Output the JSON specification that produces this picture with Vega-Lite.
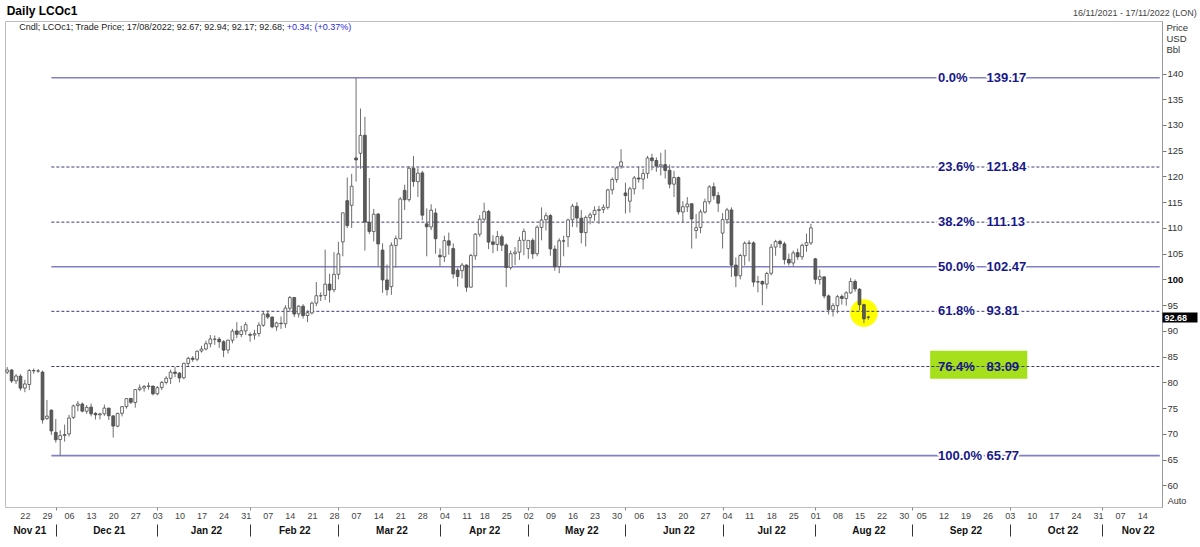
{
"$schema": "https://vega.github.io/schema/vega-lite/v6.json",
"width": 1157, "height": 486,
"autosize": {"type": "none"},
"padding": {"left": 5, "top": 21, "right": 38, "bottom": 40},
"background": "white",
"config": {"font": "Liberation Sans", "view": {"stroke": "#bdbdbd"}, "axis": {"grid": false}},
"resolve": {"axis": {"x": "independent", "y": "independent"}},
"data": {"values": [
{"d":"2021-11-16","o":82.0,"h":83.0,"l":81.6,"c":82.43},
{"d":"2021-11-17","o":82.4,"h":82.6,"l":79.9,"c":80.28},
{"d":"2021-11-18","o":80.3,"h":81.6,"l":79.7,"c":81.24},
{"d":"2021-11-19","o":81.2,"h":81.6,"l":78.4,"c":78.89},
{"d":"2021-11-22","o":78.9,"h":80.5,"l":78.1,"c":79.7},
{"d":"2021-11-23","o":79.6,"h":82.6,"l":78.5,"c":82.31},
{"d":"2021-11-24","o":82.3,"h":82.7,"l":81.7,"c":82.25},
{"d":"2021-11-25","o":82.2,"h":82.6,"l":81.9,"c":82.22},
{"d":"2021-11-26","o":82.0,"h":82.3,"l":72.0,"c":72.72},
{"d":"2021-11-29","o":73.0,"h":76.6,"l":72.7,"c":73.44},
{"d":"2021-11-30","o":74.6,"h":74.8,"l":69.8,"c":70.57},
{"d":"2021-12-01","o":70.3,"h":72.9,"l":68.3,"c":68.87},
{"d":"2021-12-02","o":68.9,"h":70.7,"l":65.72,"c":69.67},
{"d":"2021-12-03","o":69.7,"h":71.8,"l":68.5,"c":69.88},
{"d":"2021-12-06","o":70.0,"h":73.7,"l":69.5,"c":73.08},
{"d":"2021-12-07","o":73.2,"h":75.7,"l":72.9,"c":75.44},
{"d":"2021-12-08","o":75.5,"h":76.4,"l":74.4,"c":75.82},
{"d":"2021-12-09","o":75.8,"h":76.1,"l":74.2,"c":74.42},
{"d":"2021-12-10","o":74.4,"h":75.6,"l":73.9,"c":75.15},
{"d":"2021-12-13","o":75.2,"h":75.9,"l":73.4,"c":73.9},
{"d":"2021-12-14","o":74.0,"h":74.2,"l":72.8,"c":73.7},
{"d":"2021-12-15","o":73.7,"h":74.1,"l":72.8,"c":73.88},
{"d":"2021-12-16","o":73.9,"h":75.7,"l":73.5,"c":75.02},
{"d":"2021-12-17","o":75.0,"h":75.1,"l":72.7,"c":73.52},
{"d":"2021-12-20","o":73.5,"h":73.6,"l":69.3,"c":71.52},
{"d":"2021-12-21","o":71.5,"h":74.1,"l":71.3,"c":73.98},
{"d":"2021-12-22","o":74.0,"h":75.4,"l":73.4,"c":75.29},
{"d":"2021-12-23","o":75.3,"h":76.9,"l":74.9,"c":76.85},
{"d":"2021-12-24","o":76.9,"h":76.9,"l":75.8,"c":76.14},
{"d":"2021-12-27","o":76.1,"h":78.7,"l":75.1,"c":78.6},
{"d":"2021-12-28","o":78.6,"h":79.6,"l":78.3,"c":78.94},
{"d":"2021-12-29","o":78.9,"h":79.5,"l":78.2,"c":79.23},
{"d":"2021-12-30","o":79.2,"h":80.0,"l":78.6,"c":79.32},
{"d":"2021-12-31","o":79.3,"h":79.3,"l":77.5,"c":77.78},
{"d":"2022-01-03","o":77.8,"h":79.3,"l":77.5,"c":78.98},
{"d":"2022-01-04","o":79.0,"h":80.3,"l":78.5,"c":80.0},
{"d":"2022-01-05","o":80.0,"h":81.2,"l":79.6,"c":80.8},
{"d":"2022-01-06","o":80.8,"h":82.5,"l":79.7,"c":81.99},
{"d":"2022-01-07","o":82.0,"h":83.0,"l":81.0,"c":81.75},
{"d":"2022-01-10","o":81.8,"h":82.0,"l":80.0,"c":80.87},
{"d":"2022-01-11","o":80.9,"h":83.8,"l":80.6,"c":83.72},
{"d":"2022-01-12","o":83.7,"h":85.0,"l":83.2,"c":84.67},
{"d":"2022-01-13","o":84.7,"h":85.1,"l":84.0,"c":84.47},
{"d":"2022-01-14","o":84.5,"h":86.2,"l":84.1,"c":86.06},
{"d":"2022-01-17","o":86.1,"h":87.1,"l":85.8,"c":86.48},
{"d":"2022-01-18","o":86.5,"h":88.1,"l":86.2,"c":87.51},
{"d":"2022-01-19","o":87.5,"h":89.2,"l":86.8,"c":88.44},
{"d":"2022-01-20","o":88.4,"h":89.1,"l":87.3,"c":88.38},
{"d":"2022-01-21","o":88.4,"h":88.8,"l":86.7,"c":87.89},
{"d":"2022-01-24","o":87.9,"h":88.2,"l":84.9,"c":86.27},
{"d":"2022-01-25","o":86.3,"h":88.3,"l":85.6,"c":88.2},
{"d":"2022-01-26","o":88.2,"h":90.4,"l":87.6,"c":89.96},
{"d":"2022-01-27","o":90.0,"h":91.7,"l":88.6,"c":89.34},
{"d":"2022-01-28","o":89.3,"h":91.0,"l":88.8,"c":90.03},
{"d":"2022-01-31","o":90.0,"h":91.7,"l":89.2,"c":91.21},
{"d":"2022-02-01","o":89.3,"h":89.7,"l":87.9,"c":89.16},
{"d":"2022-02-02","o":89.2,"h":90.2,"l":88.3,"c":89.47},
{"d":"2022-02-03","o":89.5,"h":91.7,"l":88.9,"c":91.11},
{"d":"2022-02-04","o":91.1,"h":93.7,"l":90.8,"c":93.27},
{"d":"2022-02-07","o":93.3,"h":94.0,"l":92.3,"c":92.69},
{"d":"2022-02-08","o":92.7,"h":92.8,"l":90.5,"c":90.78},
{"d":"2022-02-09","o":90.8,"h":91.8,"l":90.0,"c":91.55},
{"d":"2022-02-10","o":91.5,"h":92.8,"l":90.4,"c":91.41},
{"d":"2022-02-11","o":91.4,"h":95.0,"l":90.6,"c":94.44},
{"d":"2022-02-14","o":94.4,"h":96.8,"l":93.7,"c":96.48},
{"d":"2022-02-15","o":96.5,"h":96.5,"l":92.7,"c":93.28},
{"d":"2022-02-16","o":93.3,"h":95.0,"l":92.6,"c":94.81},
{"d":"2022-02-17","o":94.8,"h":95.2,"l":92.4,"c":92.97},
{"d":"2022-02-18","o":93.0,"h":94.0,"l":91.7,"c":93.54},
{"d":"2022-02-21","o":93.5,"h":95.7,"l":93.2,"c":95.39},
{"d":"2022-02-22","o":95.4,"h":99.5,"l":94.8,"c":96.84},
{"d":"2022-02-23","o":96.8,"h":97.5,"l":95.8,"c":96.84},
{"d":"2022-02-24","o":96.9,"h":105.79,"l":96.0,"c":99.08},
{"d":"2022-02-25","o":99.1,"h":101.1,"l":95.5,"c":97.93},
{"d":"2022-02-28","o":98.0,"h":105.3,"l":97.5,"c":100.99},
{"d":"2022-03-01","o":101.0,"h":107.3,"l":100.0,"c":104.97},
{"d":"2022-03-02","o":107.3,"h":113.0,"l":104.5,"c":112.93},
{"d":"2022-03-03","o":115.3,"h":119.8,"l":110.0,"c":110.46},
{"d":"2022-03-04","o":114.4,"h":120.5,"l":110.0,"c":118.11},
{"d":"2022-03-07","o":123.6,"h":139.13,"l":119.0,"c":123.21},
{"d":"2022-03-08","o":124.5,"h":133.2,"l":121.5,"c":127.98},
{"d":"2022-03-09","o":128.0,"h":131.6,"l":105.6,"c":111.14},
{"d":"2022-03-10","o":111.1,"h":119.7,"l":108.8,"c":109.33},
{"d":"2022-03-11","o":109.3,"h":113.7,"l":107.4,"c":112.67},
{"d":"2022-03-14","o":112.7,"h":112.9,"l":102.5,"c":106.9},
{"d":"2022-03-15","o":105.7,"h":107.0,"l":97.4,"c":99.91},
{"d":"2022-03-16","o":99.9,"h":102.9,"l":96.9,"c":98.02},
{"d":"2022-03-17","o":98.6,"h":107.2,"l":97.0,"c":106.64},
{"d":"2022-03-18","o":106.6,"h":108.5,"l":102.3,"c":107.93},
{"d":"2022-03-21","o":107.9,"h":116.0,"l":107.8,"c":115.62},
{"d":"2022-03-22","o":117.3,"h":118.4,"l":113.5,"c":115.48},
{"d":"2022-03-23","o":115.5,"h":122.0,"l":115.1,"c":121.6},
{"d":"2022-03-24","o":121.6,"h":124.0,"l":118.0,"c":119.03},
{"d":"2022-03-25","o":119.0,"h":121.6,"l":116.0,"c":120.65},
{"d":"2022-03-28","o":120.7,"h":121.1,"l":111.5,"c":112.48},
{"d":"2022-03-29","o":110.8,"h":113.8,"l":104.5,"c":110.23},
{"d":"2022-03-30","o":110.2,"h":114.6,"l":109.6,"c":113.45},
{"d":"2022-03-31","o":112.9,"h":113.8,"l":105.0,"c":107.91},
{"d":"2022-04-01","o":104.7,"h":106.0,"l":102.6,"c":104.39},
{"d":"2022-04-04","o":104.4,"h":108.5,"l":103.4,"c":107.53},
{"d":"2022-04-05","o":107.5,"h":109.1,"l":104.8,"c":106.64},
{"d":"2022-04-06","o":106.0,"h":107.0,"l":100.2,"c":101.07},
{"d":"2022-04-07","o":101.8,"h":102.3,"l":98.6,"c":100.58},
{"d":"2022-04-08","o":101.7,"h":103.2,"l":100.2,"c":102.78},
{"d":"2022-04-11","o":102.8,"h":102.9,"l":97.6,"c":98.48},
{"d":"2022-04-12","o":98.5,"h":105.0,"l":98.4,"c":104.64},
{"d":"2022-04-13","o":104.6,"h":109.0,"l":103.8,"c":108.78},
{"d":"2022-04-14","o":108.8,"h":112.5,"l":108.3,"c":111.7},
{"d":"2022-04-18","o":111.7,"h":114.9,"l":111.2,"c":113.16},
{"d":"2022-04-19","o":113.2,"h":113.5,"l":105.9,"c":107.25},
{"d":"2022-04-20","o":107.3,"h":108.6,"l":105.1,"c":106.8},
{"d":"2022-04-21","o":106.8,"h":109.4,"l":105.5,"c":108.33},
{"d":"2022-04-22","o":108.3,"h":108.7,"l":105.5,"c":106.65},
{"d":"2022-04-25","o":106.7,"h":107.0,"l":98.5,"c":102.32},
{"d":"2022-04-26","o":102.3,"h":105.6,"l":101.9,"c":104.99},
{"d":"2022-04-27","o":105.0,"h":106.3,"l":102.8,"c":105.32},
{"d":"2022-04-28","o":105.3,"h":108.3,"l":103.8,"c":107.59},
{"d":"2022-04-29","o":107.6,"h":109.9,"l":104.7,"c":109.34},
{"d":"2022-05-02","o":106.0,"h":107.6,"l":104.0,"c":107.58},
{"d":"2022-05-03","o":107.6,"h":108.0,"l":104.0,"c":104.97},
{"d":"2022-05-04","o":105.0,"h":110.5,"l":104.5,"c":110.14},
{"d":"2022-05-05","o":110.1,"h":114.0,"l":107.6,"c":111.55},
{"d":"2022-05-06","o":111.6,"h":113.0,"l":109.5,"c":112.39},
{"d":"2022-05-09","o":112.4,"h":112.7,"l":104.6,"c":105.94},
{"d":"2022-05-10","o":105.9,"h":106.6,"l":101.7,"c":102.46},
{"d":"2022-05-11","o":102.5,"h":108.0,"l":101.2,"c":107.51},
{"d":"2022-05-12","o":107.5,"h":108.5,"l":104.5,"c":107.45},
{"d":"2022-05-13","o":108.3,"h":111.8,"l":106.3,"c":111.55},
{"d":"2022-05-16","o":111.6,"h":114.7,"l":110.2,"c":114.24},
{"d":"2022-05-17","o":114.2,"h":115.0,"l":110.1,"c":111.93},
{"d":"2022-05-18","o":111.9,"h":113.5,"l":107.0,"c":109.11},
{"d":"2022-05-19","o":109.1,"h":112.4,"l":106.4,"c":112.04},
{"d":"2022-05-20","o":112.0,"h":113.0,"l":110.7,"c":112.55},
{"d":"2022-05-23","o":112.6,"h":114.2,"l":111.4,"c":113.42},
{"d":"2022-05-24","o":113.4,"h":114.3,"l":110.8,"c":113.56},
{"d":"2022-05-25","o":113.6,"h":114.6,"l":112.9,"c":114.03},
{"d":"2022-05-26","o":114.0,"h":117.6,"l":113.6,"c":117.4},
{"d":"2022-05-27","o":117.4,"h":119.8,"l":116.5,"c":119.43},
{"d":"2022-05-30","o":119.4,"h":121.9,"l":118.8,"c":121.67},
{"d":"2022-05-31","o":122.0,"h":125.3,"l":121.5,"c":122.84},
{"d":"2022-06-01","o":116.8,"h":118.8,"l":112.8,"c":116.29},
{"d":"2022-06-02","o":115.2,"h":118.0,"l":113.0,"c":117.61},
{"d":"2022-06-03","o":117.6,"h":120.1,"l":116.5,"c":119.72},
{"d":"2022-06-06","o":119.7,"h":121.9,"l":118.8,"c":119.51},
{"d":"2022-06-07","o":119.5,"h":121.5,"l":117.5,"c":120.57},
{"d":"2022-06-08","o":120.6,"h":124.0,"l":119.6,"c":123.58},
{"d":"2022-06-09","o":123.6,"h":124.4,"l":121.2,"c":123.07},
{"d":"2022-06-10","o":123.1,"h":123.7,"l":120.9,"c":122.01},
{"d":"2022-06-13","o":122.0,"h":124.6,"l":120.2,"c":122.27},
{"d":"2022-06-14","o":122.3,"h":125.2,"l":119.6,"c":121.17},
{"d":"2022-06-15","o":121.2,"h":122.3,"l":117.7,"c":118.51},
{"d":"2022-06-16","o":118.5,"h":121.1,"l":116.0,"c":119.81},
{"d":"2022-06-17","o":119.8,"h":120.0,"l":112.6,"c":113.12},
{"d":"2022-06-20","o":113.1,"h":115.2,"l":111.0,"c":114.13},
{"d":"2022-06-21","o":114.1,"h":116.0,"l":113.1,"c":114.65},
{"d":"2022-06-22","o":114.7,"h":114.8,"l":106.0,"c":111.74},
{"d":"2022-06-23","o":109.5,"h":112.7,"l":107.9,"c":110.05},
{"d":"2022-06-24","o":110.1,"h":113.6,"l":109.0,"c":113.12},
{"d":"2022-06-27","o":113.1,"h":115.7,"l":112.8,"c":115.09},
{"d":"2022-06-28","o":115.1,"h":118.3,"l":114.6,"c":117.98},
{"d":"2022-06-29","o":118.0,"h":118.8,"l":115.5,"c":116.26},
{"d":"2022-06-30","o":116.3,"h":117.0,"l":113.1,"c":114.81},
{"d":"2022-07-01","o":109.0,"h":112.9,"l":106.0,"c":111.63},
{"d":"2022-07-04","o":111.6,"h":113.9,"l":110.8,"c":113.5},
{"d":"2022-07-05","o":113.5,"h":114.0,"l":100.5,"c":102.77},
{"d":"2022-07-06","o":102.8,"h":104.3,"l":98.5,"c":100.69},
{"d":"2022-07-07","o":100.7,"h":105.0,"l":100.0,"c":104.65},
{"d":"2022-07-08","o":104.6,"h":107.4,"l":102.7,"c":107.02},
{"d":"2022-07-11","o":107.0,"h":107.6,"l":103.5,"c":107.1},
{"d":"2022-07-12","o":107.1,"h":107.4,"l":98.6,"c":99.49},
{"d":"2022-07-13","o":99.5,"h":100.7,"l":97.5,"c":99.57},
{"d":"2022-07-14","o":99.6,"h":99.8,"l":95.0,"c":99.1},
{"d":"2022-07-15","o":99.1,"h":101.5,"l":98.2,"c":101.16},
{"d":"2022-07-18","o":101.2,"h":106.9,"l":100.8,"c":106.27},
{"d":"2022-07-19","o":106.3,"h":107.7,"l":104.6,"c":107.35},
{"d":"2022-07-20","o":107.4,"h":107.7,"l":106.1,"c":106.92},
{"d":"2022-07-21","o":106.9,"h":107.3,"l":102.9,"c":103.86},
{"d":"2022-07-22","o":103.9,"h":105.0,"l":102.7,"c":103.2},
{"d":"2022-07-25","o":103.2,"h":105.6,"l":102.5,"c":105.15},
{"d":"2022-07-26","o":105.2,"h":106.0,"l":103.8,"c":104.4},
{"d":"2022-07-27","o":104.4,"h":107.0,"l":103.8,"c":106.62},
{"d":"2022-07-28","o":106.6,"h":108.9,"l":105.4,"c":107.14},
{"d":"2022-07-29","o":107.1,"h":110.8,"l":106.7,"c":110.01},
{"d":"2022-08-01","o":104.0,"h":104.2,"l":99.1,"c":100.03},
{"d":"2022-08-02","o":100.0,"h":101.9,"l":99.0,"c":100.54},
{"d":"2022-08-03","o":100.5,"h":100.6,"l":96.3,"c":96.78},
{"d":"2022-08-04","o":96.8,"h":97.1,"l":93.2,"c":94.12},
{"d":"2022-08-05","o":94.1,"h":95.4,"l":92.8,"c":94.92},
{"d":"2022-08-08","o":94.9,"h":97.0,"l":93.4,"c":96.65},
{"d":"2022-08-09","o":96.7,"h":97.1,"l":95.1,"c":96.31},
{"d":"2022-08-10","o":96.3,"h":97.7,"l":94.9,"c":97.4},
{"d":"2022-08-11","o":97.4,"h":100.3,"l":97.2,"c":99.6},
{"d":"2022-08-12","o":99.6,"h":100.0,"l":97.6,"c":98.15},
{"d":"2022-08-15","o":98.1,"h":98.3,"l":94.0,"c":95.1},
{"d":"2022-08-16","o":95.1,"h":95.3,"l":91.5,"c":92.34},
{"d":"2022-08-17","o":92.67,"h":92.94,"l":92.17,"c":92.68}
]},
"layer": [
{"data": {"values": [{}]}, "mark": {"type": "point", "filled": true, "color": "#ffff00", "opacity": 1, "size": 760},
 "encoding": {"x": {"datum": "2022-08-16", "type": "ordinal", "axis": null}, "y": {"datum": 93.46, "type": "quantitative", "axis": null}}},
{"data": {"values": [{}]}, "mark": {"type": "rect", "color": "#a6df1c"},
 "encoding": {"x": {"datum": "2022-09-07", "type": "ordinal", "axis": null}, "x2": {"datum": "2022-10-07"}, "y": {"datum": 86.15, "type": "quantitative", "axis": null}, "y2": {"datum": 80.7}}},
{"data": {"values": [
 {"p":"0.0%","v":139.17},{"p":"50.0%","v":102.47},{"p":"100.0%","v":65.77}]},
 "mark": {"type": "rule", "color": "#8080c4", "strokeWidth": 1.6},
 "encoding": {"x": {"datum": "2021-11-30", "type": "ordinal", "axis": null}, "x2": {"datum": "2022-11-18"}, "y": {"field": "v", "type": "quantitative", "axis": null}}},
{"data": {"values": [
 {"p":"23.6%","v":121.84},{"p":"38.2%","v":111.13},{"p":"61.8%","v":93.81},{"p":"76.4%","v":83.09}]},
 "mark": {"type": "rule", "color": "#3a3a7c", "strokeWidth": 1, "strokeDash": [3, 2]},
 "encoding": {"x": {"datum": "2021-11-30", "type": "ordinal", "axis": null}, "x2": {"datum": "2022-11-18"}, "y": {"field": "v", "type": "quantitative", "axis": null}}},
{"mark": {"type": "rule", "color": "#6e6e6e", "strokeWidth": 1},
 "encoding": {
  "x": {"field": "d", "type": "ordinal", "scale": {"type": "point", "padding": 0.5, "domain": ["2021-11-16","2021-11-17","2021-11-18","2021-11-19","2021-11-22","2021-11-23","2021-11-24","2021-11-25","2021-11-26","2021-11-29","2021-11-30","2021-12-01","2021-12-02","2021-12-03","2021-12-06","2021-12-07","2021-12-08","2021-12-09","2021-12-10","2021-12-13","2021-12-14","2021-12-15","2021-12-16","2021-12-17","2021-12-20","2021-12-21","2021-12-22","2021-12-23","2021-12-24","2021-12-27","2021-12-28","2021-12-29","2021-12-30","2021-12-31","2022-01-03","2022-01-04","2022-01-05","2022-01-06","2022-01-07","2022-01-10","2022-01-11","2022-01-12","2022-01-13","2022-01-14","2022-01-17","2022-01-18","2022-01-19","2022-01-20","2022-01-21","2022-01-24","2022-01-25","2022-01-26","2022-01-27","2022-01-28","2022-01-31","2022-02-01","2022-02-02","2022-02-03","2022-02-04","2022-02-07","2022-02-08","2022-02-09","2022-02-10","2022-02-11","2022-02-14","2022-02-15","2022-02-16","2022-02-17","2022-02-18","2022-02-21","2022-02-22","2022-02-23","2022-02-24","2022-02-25","2022-02-28","2022-03-01","2022-03-02","2022-03-03","2022-03-04","2022-03-07","2022-03-08","2022-03-09","2022-03-10","2022-03-11","2022-03-14","2022-03-15","2022-03-16","2022-03-17","2022-03-18","2022-03-21","2022-03-22","2022-03-23","2022-03-24","2022-03-25","2022-03-28","2022-03-29","2022-03-30","2022-03-31","2022-04-01","2022-04-04","2022-04-05","2022-04-06","2022-04-07","2022-04-08","2022-04-11","2022-04-12","2022-04-13","2022-04-14","2022-04-18","2022-04-19","2022-04-20","2022-04-21","2022-04-22","2022-04-25","2022-04-26","2022-04-27","2022-04-28","2022-04-29","2022-05-02","2022-05-03","2022-05-04","2022-05-05","2022-05-06","2022-05-09","2022-05-10","2022-05-11","2022-05-12","2022-05-13","2022-05-16","2022-05-17","2022-05-18","2022-05-19","2022-05-20","2022-05-23","2022-05-24","2022-05-25","2022-05-26","2022-05-27","2022-05-30","2022-05-31","2022-06-01","2022-06-02","2022-06-03","2022-06-06","2022-06-07","2022-06-08","2022-06-09","2022-06-10","2022-06-13","2022-06-14","2022-06-15","2022-06-16","2022-06-17","2022-06-20","2022-06-21","2022-06-22","2022-06-23","2022-06-24","2022-06-27","2022-06-28","2022-06-29","2022-06-30","2022-07-01","2022-07-04","2022-07-05","2022-07-06","2022-07-07","2022-07-08","2022-07-11","2022-07-12","2022-07-13","2022-07-14","2022-07-15","2022-07-18","2022-07-19","2022-07-20","2022-07-21","2022-07-22","2022-07-25","2022-07-26","2022-07-27","2022-07-28","2022-07-29","2022-08-01","2022-08-02","2022-08-03","2022-08-04","2022-08-05","2022-08-08","2022-08-09","2022-08-10","2022-08-11","2022-08-12","2022-08-15","2022-08-16","2022-08-17","2022-08-18","2022-08-19","2022-08-22","2022-08-23","2022-08-24","2022-08-25","2022-08-26","2022-08-30","2022-08-31","2022-09-01","2022-09-02","2022-09-05","2022-09-06","2022-09-07","2022-09-08","2022-09-09","2022-09-12","2022-09-13","2022-09-14","2022-09-15","2022-09-16","2022-09-19","2022-09-20","2022-09-21","2022-09-22","2022-09-23","2022-09-26","2022-09-27","2022-09-28","2022-09-29","2022-09-30","2022-10-03","2022-10-04","2022-10-05","2022-10-06","2022-10-07","2022-10-10","2022-10-11","2022-10-12","2022-10-13","2022-10-14","2022-10-17","2022-10-18","2022-10-19","2022-10-20","2022-10-21","2022-10-24","2022-10-25","2022-10-26","2022-10-27","2022-10-28","2022-10-31","2022-11-01","2022-11-02","2022-11-03","2022-11-04","2022-11-07","2022-11-08","2022-11-09","2022-11-10","2022-11-11","2022-11-14","2022-11-15","2022-11-16","2022-11-17","2022-11-18"]},
   "axis": {"orient": "bottom", "values": ["2021-11-22","2021-11-29","2021-12-06","2021-12-13","2021-12-20","2021-12-27","2022-01-03","2022-01-10","2022-01-17","2022-01-24","2022-01-31","2022-02-07","2022-02-14","2022-02-21","2022-02-28","2022-03-07","2022-03-14","2022-03-21","2022-03-28","2022-04-04","2022-04-11","2022-04-18","2022-04-25","2022-05-02","2022-05-09","2022-05-16","2022-05-23","2022-05-30","2022-06-06","2022-06-13","2022-06-20","2022-06-27","2022-07-04","2022-07-11","2022-07-18","2022-07-25","2022-08-01","2022-08-08","2022-08-15","2022-08-22","2022-08-30","2022-09-05","2022-09-12","2022-09-19","2022-09-26","2022-10-03","2022-10-10","2022-10-17","2022-10-24","2022-10-31","2022-11-07","2022-11-14"],
    "labelExpr": "slice(datum.value, 8, 10)", "domain": false, "ticks": false, "tickSize": 0, "labelPadding": 4, "labelFontSize": 9, "labelColor": "#444", "labelAngle": 0, "labelOverlap": false, "labelBound": false, "labelFlush": false, "title": null}},
  "y": {"field": "l", "type": "quantitative", "scale": {"domain": [55.8, 150.2], "nice": false, "zero": false},
   "axis": {"orient": "right", "values": [60,65,70,75,80,85,90,95,100,105,110,115,120,125,130,135,140], "tickSize": 4, "tickColor": "#777", "domainColor": "#999", "labelPadding": 1, "labelFontSize": 9.5,
    "labelColor": {"condition": {"test": "datum.value == 100", "value": "#000"}, "value": "#333"},
    "labelFontWeight": {"condition": {"test": "datum.value == 100", "value": "bold"}, "value": "normal"},
    "title": ["Price", "USD", "Bbl"], "titleAngle": 0, "titleAlign": "left", "titleBaseline": "top", "titleX": 4, "titleY": 1, "titleFontSize": 9.5, "titleFontWeight": "normal", "titleColor": "#333", "titleLineHeight": 11}},
  "y2": {"field": "h"}}},
{"mark": {"type": "bar", "size": 2.8, "stroke": "#4a4a4a", "strokeWidth": 0.8},
 "encoding": {
  "x": {"field": "d", "type": "ordinal", "scale": {"type": "point"}, "axis": null},
  "y": {"field": "o", "type": "quantitative", "axis": null},
  "y2": {"field": "c"},
  "fill": {"condition": {"test": "datum.c >= datum.o", "value": "#ffffff"}, "value": "#5a5a5a"}}},
{"mark": {"type": "point", "opacity": 0},
 "encoding": {"x": {"field": "d", "type": "ordinal", "axis": {"orient": "bottom", "values": ["2021-12-01","2022-01-03","2022-02-01","2022-03-01","2022-04-01","2022-05-02","2022-06-01","2022-07-01","2022-08-01","2022-09-01","2022-10-03","2022-11-01"], "labels": false, "domain": false, "tickSize": 3, "tickColor": "#888", "offset": 0, "title": null}}}},
{"mark": {"type": "point", "opacity": 0},
 "encoding": {"x": {"field": "d", "type": "ordinal", "axis": {"orient": "bottom", "values": ["2021-12-01","2022-01-03","2022-02-01","2022-03-01","2022-04-01","2022-05-02","2022-06-01","2022-07-01","2022-08-01","2022-09-01","2022-10-03","2022-11-01"], "labels": false, "domain": false, "tickSize": 12, "tickColor": "#333", "offset": 17, "title": null}}}},
{"mark": {"type": "point", "opacity": 0},
 "encoding": {"x": {"field": "d", "type": "ordinal", "axis": {"orient": "bottom", "values": ["2021-11-23","2021-12-17","2022-01-18","2022-02-15","2022-03-17","2022-04-18","2022-05-18","2022-06-17","2022-07-18","2022-08-17","2022-09-19","2022-10-19","2022-11-11"],
  "labelExpr": "['Jan','Feb','Mar','Apr','May','Jun','Jul','Aug','Sep','Oct','Nov','Dec'][toNumber(slice(datum.value, 5, 7)) - 1] + ' ' + slice(datum.value, 2, 4)",
  "domain": false, "ticks": false, "tickSize": 0, "offset": 16, "labelPadding": 2, "labelFontSize": 10, "labelFontWeight": "bold", "labelColor": "#111", "labelAngle": 0, "labelOverlap": false, "labelBound": false, "labelFlush": false, "title": null}}}},
{"data": {"values": [{"c": 92.68}]}, "mark": {"type": "point", "opacity": 0},
 "encoding": {"y": {"field": "c", "type": "quantitative", "axis": {"orient": "right", "values": [92.68], "format": ".2f", "domain": false, "tickSize": 35, "tickWidth": 10, "tickColor": "#000", "tickCap": "butt", "labelColor": "#fff", "labelFontWeight": "bold", "labelFontSize": 9, "labelPadding": -33, "labelBaseline": "middle", "title": null}}}},
{"data": {"values": [
 {"p":"0.0%","v":139.17},{"p":"23.6%","v":121.84},{"p":"38.2%","v":111.13},{"p":"50.0%","v":102.47},{"p":"61.8%","v":93.81},{"p":"100.0%","v":65.77}]},
 "mark": {"type": "text", "align": "left", "baseline": "middle", "fontSize": 13, "fontWeight": "bold", "color": "#fff", "stroke": "#fff", "strokeWidth": 4, "strokeJoin": "round", "dx": -1},
 "encoding": {"x": {"datum": "2022-09-09", "type": "ordinal", "axis": null}, "y": {"field": "v", "type": "quantitative", "axis": null}, "text": {"field": "p"}}},
{"data": {"values": [
 {"p":"0.0%","v":139.17},{"p":"23.6%","v":121.84},{"p":"38.2%","v":111.13},{"p":"50.0%","v":102.47},{"p":"61.8%","v":93.81},{"p":"100.0%","v":65.77}]},
 "mark": {"type": "text", "align": "left", "baseline": "middle", "fontSize": 13, "fontWeight": "bold", "color": "#fff", "stroke": "#fff", "strokeWidth": 4, "strokeJoin": "round", "dx": -1},
 "encoding": {"x": {"datum": "2022-09-26", "type": "ordinal", "axis": null}, "y": {"field": "v", "type": "quantitative", "axis": null}, "text": {"field": "v", "type": "quantitative", "format": ".2f"}}},
{"data": {"values": [
 {"p":"0.0%","v":139.17},{"p":"23.6%","v":121.84},{"p":"38.2%","v":111.13},{"p":"50.0%","v":102.47},{"p":"61.8%","v":93.81},{"p":"76.4%","v":83.09},{"p":"100.0%","v":65.77}]},
 "mark": {"type": "text", "align": "left", "baseline": "middle", "fontSize": 13, "fontWeight": "bold", "color": "#18188a", "dx": -1},
 "encoding": {"x": {"datum": "2022-09-09", "type": "ordinal", "axis": null}, "y": {"field": "v", "type": "quantitative", "axis": null}, "text": {"field": "p"}}},
{"data": {"values": [
 {"p":"0.0%","v":139.17},{"p":"23.6%","v":121.84},{"p":"38.2%","v":111.13},{"p":"50.0%","v":102.47},{"p":"61.8%","v":93.81},{"p":"76.4%","v":83.09},{"p":"100.0%","v":65.77}]},
 "mark": {"type": "text", "align": "left", "baseline": "middle", "fontSize": 13, "fontWeight": "bold", "color": "#18188a", "dx": -1},
 "encoding": {"x": {"datum": "2022-09-26", "type": "ordinal", "axis": null}, "y": {"field": "v", "type": "quantitative", "axis": null}, "text": {"field": "v", "type": "quantitative", "format": ".2f"}}},
{"data": {"values": [{"t": "Daily LCOc1"}]},
 "mark": {"type": "text", "align": "left", "baseline": "alphabetic", "fontSize": 12, "fontWeight": "bold", "color": "#000", "dx": -0.5, "dy": -6},
 "encoding": {"x": {"datum": "2021-11-16", "type": "ordinal", "axis": null}, "y": {"datum": 150.2, "type": "quantitative", "axis": null}, "text": {"field": "t"}}},
{"data": {"values": [{"t": "Cndl; LCOc1; Trade Price; 17/08/2022; 92.67; 92.94; 92.17; 92.68;"}]},
 "mark": {"type": "text", "align": "left", "baseline": "middle", "fontSize": 9, "color": "#222", "dx": 12, "dy": 6},
 "encoding": {"x": {"datum": "2021-11-16", "type": "ordinal", "axis": null}, "y": {"datum": 150.2, "type": "quantitative", "axis": null}, "text": {"field": "t"}}},
{"data": {"values": [{"t": "+0.34; (+0.37%)"}]},
 "mark": {"type": "text", "align": "left", "baseline": "middle", "fontSize": 9, "color": "#2b2bd6", "dx": 279.5, "dy": 6},
 "encoding": {"x": {"datum": "2021-11-16", "type": "ordinal", "axis": null}, "y": {"datum": 150.2, "type": "quantitative", "axis": null}, "text": {"field": "t"}}},
{"data": {"values": [{"t": "16/11/2021 - 17/11/2022 (LON)"}]},
 "mark": {"type": "text", "align": "right", "baseline": "middle", "fontSize": 9, "color": "#444", "dx": 37, "dy": -8},
 "encoding": {"x": {"datum": "2022-11-18", "type": "ordinal", "axis": null}, "y": {"datum": 150.2, "type": "quantitative", "axis": null}, "text": {"field": "t"}}},
{"data": {"values": [{"t": "Auto"}]},
 "mark": {"type": "text", "align": "left", "baseline": "middle", "fontSize": 9, "color": "#333", "dx": 8, "dy": -6},
 "encoding": {"x": {"datum": "2022-11-18", "type": "ordinal", "axis": null}, "y": {"datum": 55.8, "type": "quantitative", "axis": null}, "text": {"field": "t"}}}
]
}
